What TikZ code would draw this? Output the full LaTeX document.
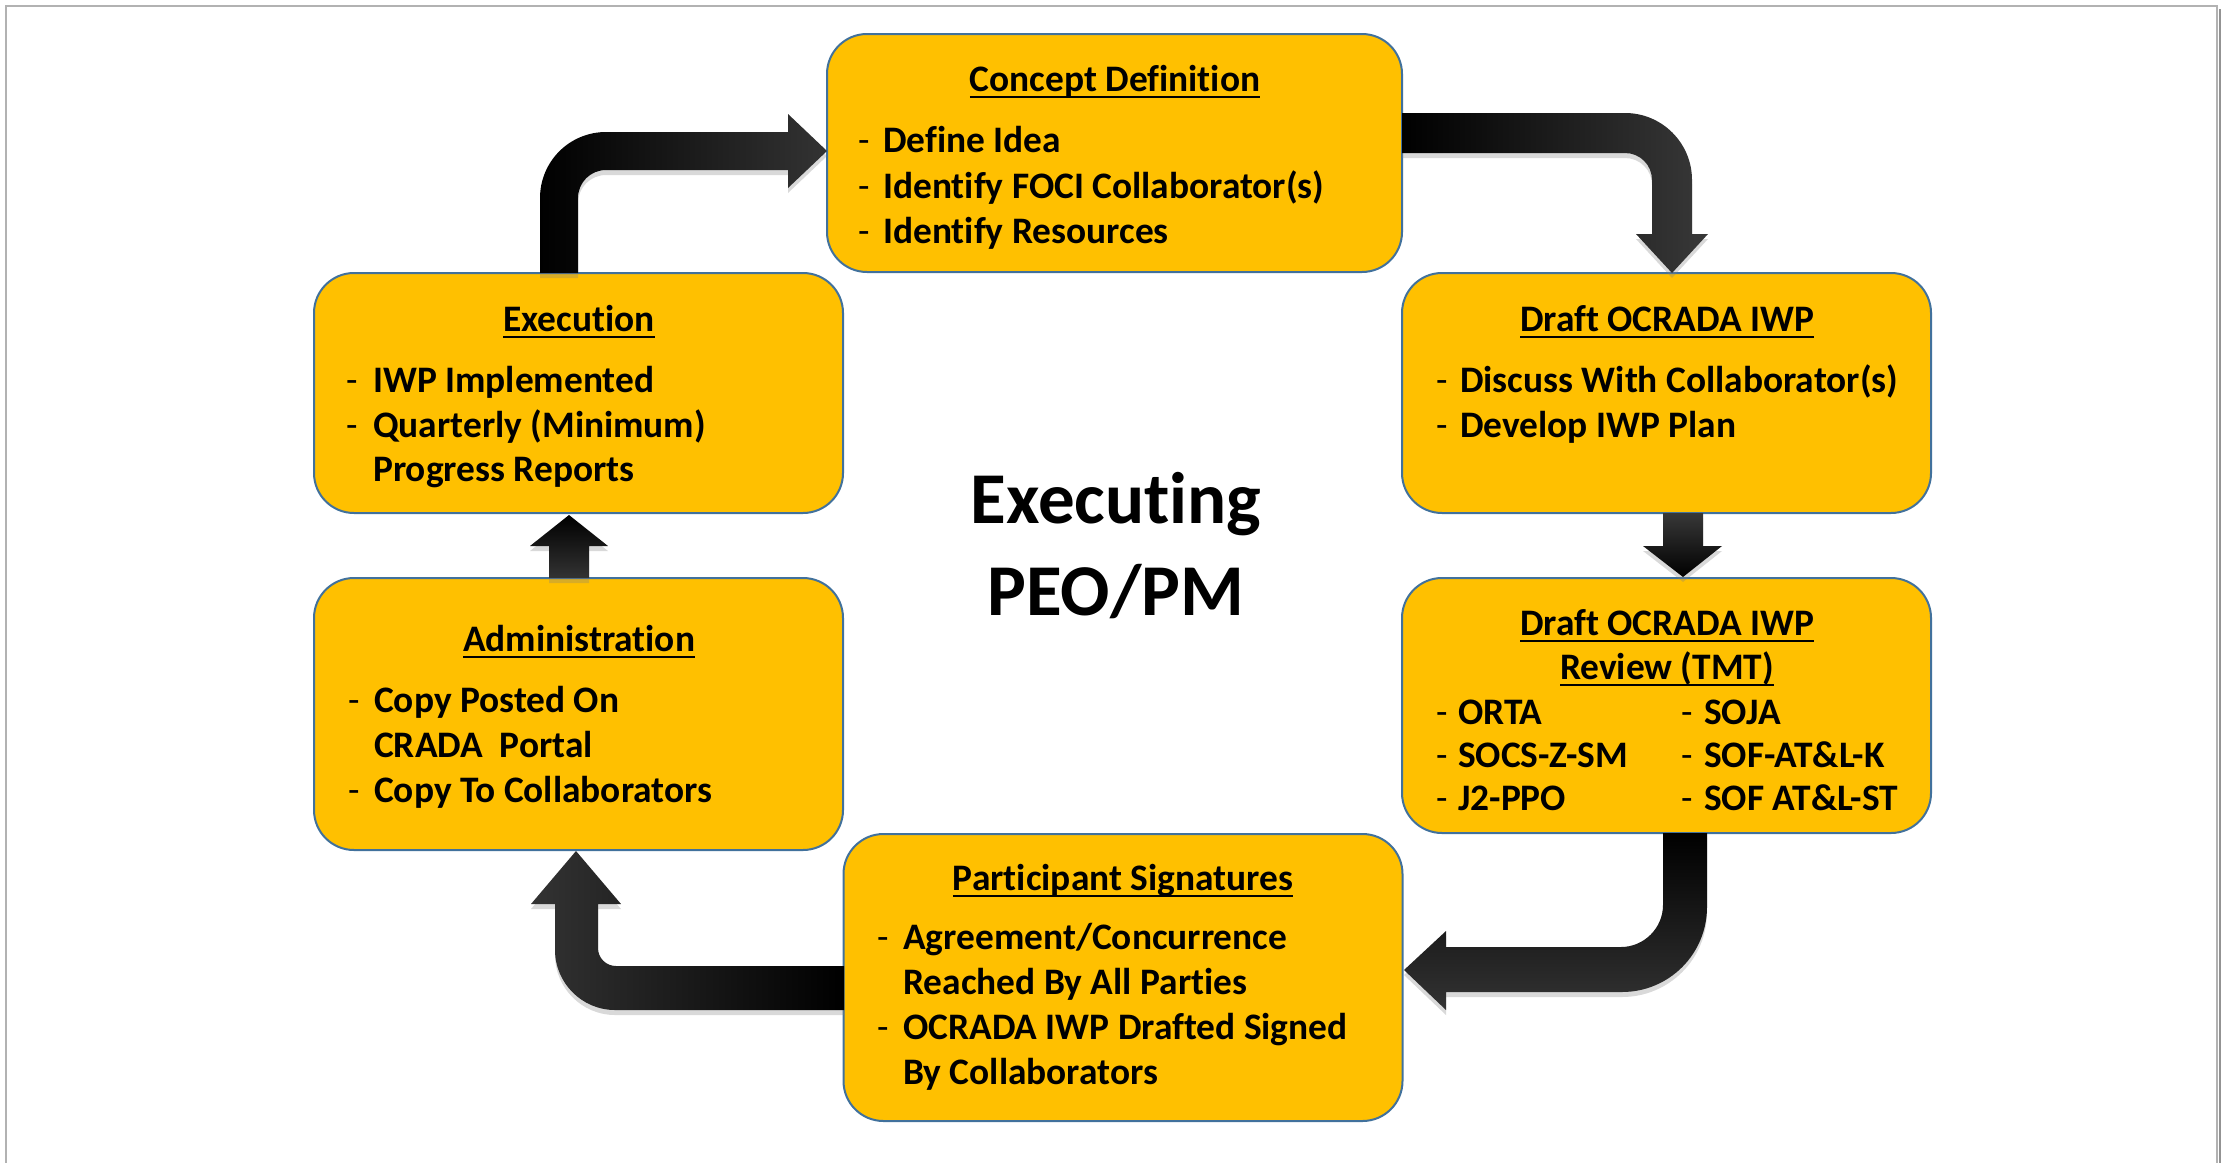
\documentclass[tikz,border=0pt]{standalone}
\usepackage{fontspec}
\setmainfont{Carlito}[Ligatures={NoCommon}]
\usetikzlibrary{shadows}
\definecolor{boxfill}{HTML}{FFC000}
\definecolor{boxline}{HTML}{41719C}
\newcommand\ttlfont{\fontsize{37.4}{45}\selectfont\bfseries}
\newcommand\bodyfont{\fontsize{37.4}{45}\selectfont\bfseries}
\newcommand\myul[1]{\setbox0=\hbox{#1}\rlap{\rule[-7pt]{\wd0}{2.2pt}}\box0}
\tikzset{
  box/.style={draw=boxline, line width=2pt, fill=boxfill, rounded corners=40pt, inner sep=0pt},
  ttl/.style={anchor=base, inner sep=0pt, font=\ttlfont},
  itm/.style={anchor=base west, inner sep=0pt, font=\bodyfont},
  dsh/.style={anchor=base west, inner sep=0pt, font=\bodyfont\mdseries},
  ctrtxt/.style={anchor=base, inner sep=0pt, font=\fontsize{73}{89}\selectfont\bfseries},
  bigarrow/.style={draw=none, drop shadow={shadow xshift=0pt, shadow yshift=-5pt, opacity=0.3}},
  frame/.style={draw=gray!60, line width=1.5pt}
}
\newcommand\dashline[5]{\node[dsh] (#1d) at (#2,#4) {-}; \node[itm] (#1) at (#3,#4) {#5};}
\begin{document}
\begin{tikzpicture}[x=1pt,y=-1pt]
\useasboundingbox (0,0) rectangle (2221,1162);
% frame
\draw[frame] (6,1170) -- (6,6) -- (2217,6) -- (2217,1170);
\draw[gray!85, line width=2pt] (2219.5,9) -- (2219.5,1170);

% boxes
\node[box, minimum width=575pt, minimum height=238pt] (concept) at (1114.5,153) {};
\node[box, minimum width=529pt, minimum height=240pt] (iwp) at (1666.5,393) {};
\node[box, minimum width=529pt, minimum height=255pt] (review) at (1666.5,705.5) {};
\node[box, minimum width=559pt, minimum height=287pt] (part) at (1123,977.5) {};
\node[box, minimum width=529pt, minimum height=272pt] (admin) at (578.5,714) {};
\node[box, minimum width=529pt, minimum height=240pt] (exec) at (578.5,393) {};

% Concept Definition
\node[ttl] (conceptT) at (1115,91) {\myul{Concept Definition}};
\dashline{c1}{858}{883}{152}{Define Idea}
\dashline{c2}{858}{883}{198}{Identify FOCI Collaborator(s)}
\dashline{c3}{858}{883}{243}{Identify Resources}

% Draft OCRADA IWP
\node[ttl] (iwpT) at (1667,331) {\myul{Draft OCRADA IWP}};
\dashline{i1}{1436}{1460}{392}{Discuss With Collaborator(s)}
\dashline{i2}{1436}{1460}{437}{Develop IWP Plan}

% Review
\node[ttl] (revT1) at (1667,635) {\myul{Draft OCRADA IWP}};
\node[ttl] (revT2) at (1667,679) {\myul{Review (TMT)}};
\dashline{r1}{1436}{1458}{724}{ORTA}
\dashline{r2}{1436}{1458}{767}{SOCS-Z-SM}
\dashline{r3}{1436}{1458}{810}{J2-PPO}
\dashline{r4}{1681}{1704}{724}{SOJA}
\dashline{r5}{1681}{1704}{767}{SOF-AT\&L-K}
\dashline{r6}{1681}{1704}{810}{SOF AT\&L-ST}

% Participant Signatures
\node[ttl] (partT) at (1123,890) {\myul{Participant Signatures}};
\dashline{p1}{877}{903}{949}{Agreement/Concurrence}
\node[itm] (p2) at (903,994) {Reached By All Parties};
\dashline{p3}{877}{903}{1039}{OCRADA IWP Drafted Signed}
\node[itm] (p4) at (903,1084) {By Collaborators};

% Administration
\node[ttl] (adminT) at (579,651) {\myul{Administration}};
\dashline{a1}{348}{374}{712}{Copy Posted On}
\node[itm] (a2) at (374,757) {CRADA~~Portal};
\dashline{a3}{348}{374}{802}{Copy To Collaborators}

% Execution
\node[ttl] (execT) at (579,331) {\myul{Execution}};
\dashline{e1}{346}{373}{392}{IWP Implemented}
\dashline{e2}{346}{373}{437}{Quarterly (Minimum)}
\node[itm] (e3) at (373,481) {Progress Reports};

% center
\node[ctrtxt] (ctr1) at (1116,523) {Executing};
\node[ctrtxt] (ctr2) at (1116,615) {PEO/PM};

% arrows
% Execution -> Concept
\path[bigarrow, left color=black, right color=black!80]
  (540,273) -- (540,198) .. controls (540,161.5) and (569.5,132) .. (606,132)
  -- (788,132) -- (788,114) -- (827,151) -- (788,188) -- (788,170)
  -- (606,170) .. controls (590.5,170) and (578,182.5) .. (578,198) -- (578,273) -- cycle;
% Concept -> Draft IWP
\path[bigarrow, left color=black, right color=black!78]
  (1402,113) -- (1625,113) .. controls (1662,113) and (1692,143) .. (1692,180)
  -- (1692,234) -- (1708,234) -- (1672,273) -- (1636,234) -- (1652,234)
  -- (1652,180) .. controls (1652,165) and (1640,153) .. (1625,153) -- (1402,153) -- cycle;
% Draft IWP -> Review
\path[bigarrow, top color=black!78, bottom color=black]
  (1663,513) -- (1703,513) -- (1703,546) -- (1722,546) -- (1683,577) -- (1643,546) -- (1663,546) -- cycle;
% Review -> Participant
\path[bigarrow, top color=black, bottom color=black!80]
  (1663,833) -- (1707,833) -- (1707,907) .. controls (1707,954) and (1669,992) .. (1622,992)
  -- (1446,992) -- (1446,1010) -- (1404,970) -- (1446,931) -- (1446,947)
  -- (1621,947) .. controls (1644,947) and (1663,928) .. (1663,905) -- cycle;
% Participant -> Administration
\path[bigarrow, left color=black!80, right color=black]
  (844,966) -- (616,966) .. controls (606,966) and (598,958) .. (598,948)
  -- (598,904) -- (621,904) -- (576,851) -- (531,904) -- (555,904)
  -- (555,950) .. controls (555,983) and (582,1010) .. (615,1010) -- (844,1010) -- cycle;
% Administration -> Execution
\path[bigarrow, top color=black, bottom color=black!80]
  (549,578) -- (549,546) -- (530,546) -- (569,515) -- (608,546) -- (589,546) -- (589,578) -- cycle;
\end{tikzpicture}
\end{document}
